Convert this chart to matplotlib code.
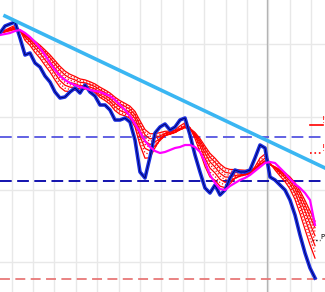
import numpy as np
import pandas as pd
import matplotlib
matplotlib.use('Agg')
from matplotlib import pyplot as plt

# sample position (bar index, 5 px apart) and price levels
bars = np.arange(0, 320, 5)
price = [33, 26, 24, 22, 38, 55, 53, 63, 67, 76, 82, 92, 98, 97, 92, 88,
         93, 85, 92, 96, 105, 105, 110, 120, 120, 118, 122, 140, 172, 178, 157, 133,
         127, 124, 130, 127, 120, 118, 135, 155, 172, 188, 193, 185, 195, 190, 178, 170,
         172, 172, 170, 158, 145, 148, 177, 180, 185, 190, 200, 215, 235, 253, 268, 278]
slow_ma = [35, 34, 33, 31, 30, 33, 37, 42, 48, 55, 63, 70, 76, 80, 83, 85,
           87, 88, 90, 91, 92, 94, 96, 100, 105, 110, 116, 124, 132, 141, 147, 151,
           153, 152, 150, 148, 147, 145, 145, 147, 152, 162, 175, 183, 189, 190, 186, 183,
           180, 178, 175, 171, 167, 163, 162, 163, 168, 173, 179, 184, 188, 193, 200, 225]
ribbon_spans = [4, 5, 6, 7, 8, 9, 10, 11, 12]

# horizontal levels and trend line (same units, screen rows)
level_blue = 137
level_navy = 181
level_red = 279
trend_x = [5, 325]
trend_y = [16, 168]

H = 292
price = H - np.array(price, dtype=float)
slow_ma = H - np.array(slow_ma, dtype=float)

fig = plt.figure(figsize=(3.25, 2.92), dpi=100)
ax = fig.add_axes([0, 0, 1, 1])
ax.set_xlim(0, 325)
ax.set_ylim(0, H)

# grid
ax.set_xticks(11.5 + 21.4 * np.arange(15))
ax.set_yticks([H - 44, H - 117, H - 190, H - 262])
ax.grid(True, color='#e8e8e8', lw=1)
ax.tick_params(length=0, labelbottom=False, labelleft=False)
for s in ax.spines.values():
    s.set_visible(False)
ax.axvline(267, color='#b4b4b4', lw=1)

# levels
ax.axhline(H - level_blue, color='#5555e0', lw=1.3, ls=(0, (6.5, 3)))
ax.axhline(H - level_navy, color='#0000a8', lw=1.3, ls=(0, (6.5, 3)))
ax.axhline(H - level_red, color='#e87878', lw=1.3, ls=(0, (5.5, 3)))

# red ema ribbon
s = pd.Series(price)
for i, span in enumerate(ribbon_spans):
    ema = s.ewm(span=span, adjust=False).mean()
    ls = '-' if i % 2 == 0 else ':'
    ax.plot(bars, ema, color='#ff0000', lw=0.9, ls=ls, zorder=3)

# price
ax.plot(bars, price, color='#1a2ee0', lw=2.6, zorder=4)
ax.plot(bars, price, color='#000060', lw=0.6, zorder=5)

# slow ma
ax.plot(bars, slow_ma, color='#ff00ff', lw=1.6, zorder=6)

# trend line
ax.plot(trend_x, H - np.array(trend_y), color='#3ab6f2', lw=2.6, zorder=7)

# right edge markers
ax.plot([310, 323], [H - 125, H - 125], color='#ff0000', lw=1.2)
ax.text(322, H - 125, '!', color='#ff0000', fontsize=6, va='bottom')
ax.plot([310, 323], [H - 153, H - 153], color='#ff0000', lw=1.2, ls=':')
ax.text(322, H - 153, '!', color='#ff0000', fontsize=6, va='bottom')
ax.plot([312, 320], [H - 240, H - 240], color='#000000', lw=1.0, ls=':')
ax.text(320, H - 240, 'P', color='#000000', fontsize=5, va='bottom')

fig.savefig('out.png', dpi=100)
